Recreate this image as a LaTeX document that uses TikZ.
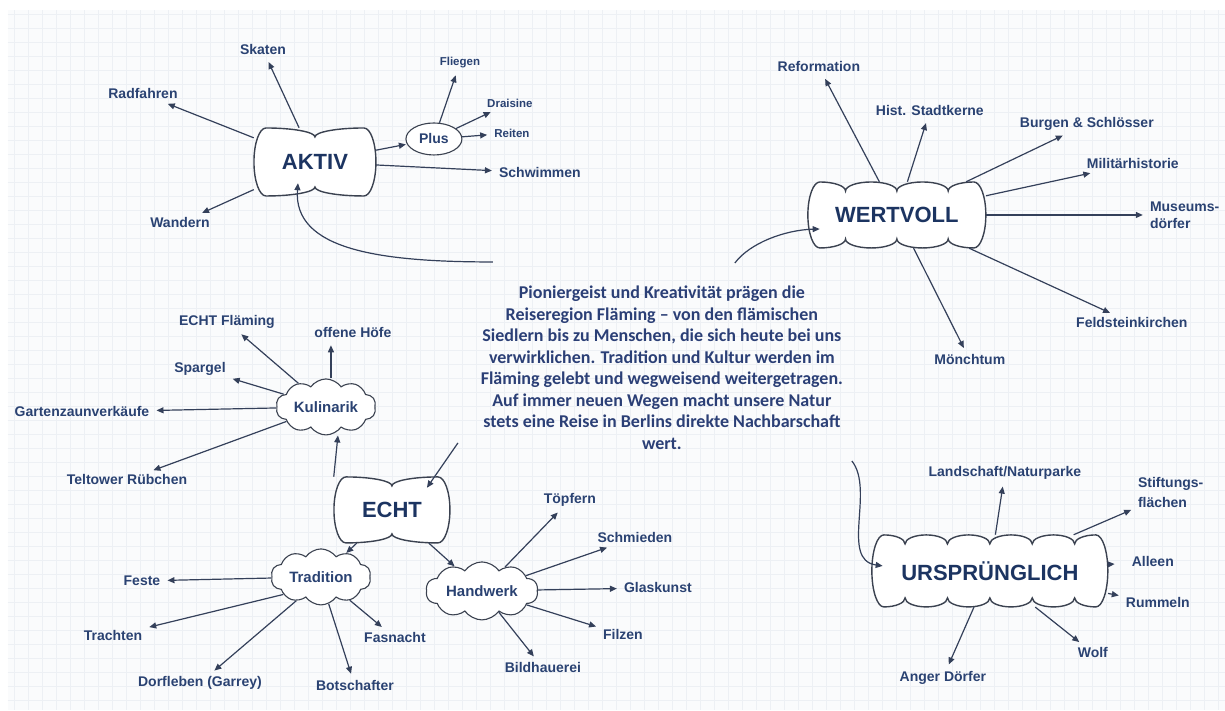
\documentclass[tikz,border=0pt]{standalone}
\usepackage{fontspec}
\setmainfont{Liberation Sans}
\newfontfamily\calib{Carlito}
\usetikzlibrary{arrows.meta,shapes.geometric,shapes.symbols}

\definecolor{labelblue}{HTML}{2A4272}
\definecolor{titleblue}{HTML}{1C3461}
\definecolor{infoblue}{HTML}{2B3F76}
\definecolor{linegray}{HTML}{34405A}
\definecolor{outline}{HTML}{3B4250}
\definecolor{gridline}{HTML}{EDF0F4}
\definecolor{paper}{HTML}{FAFBFC}

\tikzset{
  lbl/.style={font=\fontsize{14}{17}\selectfont\bfseries, text=labelblue, inner sep=3pt},
  small/.style={lbl, font=\fontsize{11.5}{14}\selectfont\bfseries},
  title/.style={font=\fontsize{22}{26}\selectfont\bfseries, text=titleblue, inner sep=0pt},
  puff/.style={cloud, cloud puffs=10, cloud puff arc=110, cloud ignores aspect, draw=outline, fill=white,
    line width=1.1pt, font=\fontsize{15}{18}\selectfont\bfseries, text=labelblue, inner sep=0pt},
  plusnode/.style={ellipse, draw=outline, fill=white, line width=1.1pt, inner sep=0pt,
    minimum width=56pt, minimum height=32pt, font=\fontsize{14}{17}\selectfont\bfseries, text=labelblue},
  link/.style={->, draw=linegray, line width=1.2pt, shorten >=4pt},
  curve/.style={->, draw=linegray, line width=1.2pt},
  boxline/.style={draw=outline, fill=white, line width=1.4pt},
}

% scalloped box: name, x, y, half width, half height, bumps, text
\newcommand\bigbox[7]{%
  \pgfmathsetmacro\bbr{(#4-12)/(#6-1)}%
  \pgfmathtruncatemacro\bbm{#6-1}%
  \draw[boxline] (#2-#4+12,#3+#5)
    \foreach \k in {1,...,\bbm}{
      arc[start angle=90,end angle=0,x radius=\bbr pt,y radius=9pt]
      arc[start angle=180,end angle=90,x radius=\bbr pt,y radius=9pt]}
    arc[start angle=90,end angle=-90,x radius=12pt,y radius=#5pt]
    \foreach \k in {1,...,\bbm}{
      arc[start angle=270,end angle=180,x radius=\bbr pt,y radius=9pt]
      arc[start angle=360,end angle=270,x radius=\bbr pt,y radius=9pt]}
    arc[start angle=270,end angle=90,x radius=12pt,y radius=#5pt] -- cycle;
  \node[title, minimum width=2*#4, minimum height=2*#5] (#1) at (#2,#3) {#7};
}

\begin{document}
\begin{tikzpicture}[x=1pt,y=1pt,>={Triangle[length=7pt,width=6pt]}]
  % paper and grid
  \fill[white] (0,0) rectangle (1225,-710);
  \fill[paper] (8,-10) rectangle (1225,-710);
  \draw[gridline, line width=0.4pt, step=14pt] (8,-710) grid (1225,-10);

  % main boxes
  \bigbox{aktiv}{315}{-162}{61}{34}{2}{AKTIV}
  \bigbox{wertvoll}{897}{-215}{89}{33}{4}{WERTVOLL}
  \bigbox{echt}{392}{-510}{58}{33}{2}{ECHT}
  \bigbox{urspr}{990}{-571}{118}{36}{6}{URSPRÜNGLICH}

  % centre text
  \node[font=\calib\fontsize{18}{21.5}\selectfont\bfseries, text=infoblue, align=center, inner sep=0pt]
    (info) at (662,-368) {Pioniergeist und Kreativität prägen die\\
      Reiseregion Fläming – von den flämischen\\
      Siedlern bis zu Menschen, die sich heute bei uns\\
      verwirklichen. Tradition und Kultur werden im\\
      Fläming gelebt und wegweisend weitergetragen.\\
      Auf immer neuen Wegen macht unsere Natur\\
      stets eine Reise in Berlins direkte Nachbarschaft\\
      wert.};
  \coordinate (fromA) at (493,-262);
  \coordinate (fromW) at (735,-263);
  \coordinate (fromU) at (852,-461);
  \coordinate (fromE) at (458,-443);

  % AKTIV
  \node[lbl] (skaten) at (263,-50) {Skaten};
  \node[lbl] (radfahren) at (143,-94) {Radfahren};
  \node[lbl] (wandern) at (180,-223) {Wandern};
  \node[lbl] (schwimmen) at (540,-173) {Schwimmen};
  \node[plusnode] (plus) at (434,-139) {Plus};
  \node[small] (fliegen) at (460,-63) {Fliegen};
  \node[small] (draisine) at (510,-103) {Draisine};
  \node[small] (reiten) at (512,-133) {Reiten};
  \draw[link] (aktiv) -- (skaten);
  \draw[link] (aktiv) -- (radfahren);
  \draw[link] (aktiv) -- (wandern);
  \draw[link] (aktiv) -- (schwimmen);
  \draw[link, shorten >=1pt] (aktiv) -- (plus);
  \draw[link] (plus) -- (fliegen);
  \draw[link] (plus) -- (draisine);
  \draw[link] (plus) -- (reiten);

  % WERTVOLL
  \node[lbl] (reformation) at (819,-67) {Reformation};
  \node[lbl] (stadtkerne) at (930,-111) {Hist. Stadtkerne};
  \node[lbl] (burgen) at (1087,-124) {Burgen \& Schlösser};
  \node[lbl] (militaer) at (1133,-164) {Militärhistorie};
  \node[lbl, align=left, anchor=west, font=\fontsize{14}{17}\selectfont\bfseries] (museum) at (1147,-215) {Museums-\\dörfer};
  \node[lbl] (feldstein) at (1132,-323) {Feldsteinkirchen};
  \node[lbl] (moench) at (970,-360) {Mönchtum};
  \draw[link] (wertvoll) -- (reformation);
  \draw[link] (wertvoll) -- (stadtkerne);
  \draw[link] (wertvoll) -- (burgen);
  \draw[link] (wertvoll) -- (militaer);
  \draw[link] (wertvoll) -- (museum);
  \draw[link] (wertvoll) -- (feldstein);
  \draw[link] (wertvoll) -- (moench);

  % ECHT: Kulinarik
  \node[puff, minimum width=100pt, minimum height=56pt] (kulinarik) at (326,-407) {Kulinarik};
  \node[lbl] (echtflaeming) at (227,-322) {ECHT Fläming};
  \node[lbl] (hoefe) at (353,-333) {offene Höfe};
  \node[lbl] (spargel) at (200,-369) {Spargel};
  \node[lbl] (garten) at (82,-412) {Gartenzaunverkäufe};
  \node[lbl] (teltower) at (127,-480) {Teltower Rübchen};
  \draw[link] (kulinarik) -- (echtflaeming);
  \draw[link] ([xshift=5pt]kulinarik.north) -- ([xshift=5pt]kulinarik.north |- hoefe.south);
  \draw[link] (kulinarik) -- (spargel);
  \draw[link] (kulinarik) -- (garten);
  \draw[link] (kulinarik) -- (teltower);

  % ECHT: Tradition
  \node[puff, minimum width=100pt, minimum height=56pt] (tradition) at (321,-577) {Tradition};
  \node[lbl] (feste) at (142,-581) {Feste};
  \node[lbl] (trachten) at (113,-636) {Trachten};
  \node[lbl] (dorfleben) at (200,-683) {Dorfleben (Garrey)};
  \node[lbl] (botschafter) at (355,-686) {Botschafter};
  \node[lbl] (fasnacht) at (395,-638) {Fasnacht};
  \draw[link] (tradition) -- (feste);
  \draw[link] (tradition.205) -- (trachten);
  \draw[link] (tradition.224) -- (dorfleben);
  \draw[link] (tradition.286) -- (botschafter);
  \draw[link] (tradition.321) -- (fasnacht);

  % ECHT: Handwerk
  \node[puff, minimum width=112pt, minimum height=58pt] (handwerk) at (482,-591) {Handwerk};
  \node[lbl] (toepfern) at (570,-500) {Töpfern};
  \node[lbl] (schmieden) at (635,-538) {Schmieden};
  \node[lbl] (glaskunst) at (658,-588) {Glaskunst};
  \node[lbl] (filzen) at (623,-635) {Filzen};
  \node[lbl] (bildhauerei) at (543,-668) {Bildhauerei};
  \draw[link] (handwerk) -- (toepfern);
  \draw[link] (handwerk) -- (schmieden);
  \draw[link] (handwerk) -- (glaskunst);
  \draw[link] (handwerk) -- (filzen);
  \draw[link] (handwerk) -- (bildhauerei);

  \draw[link, shorten >=0pt] (echt.north west) -- ([xshift=12pt]kulinarik.south);
  \draw[link, shorten >=0pt] (echt) -- (tradition);
  \draw[link, shorten >=0pt] (echt) -- (handwerk);

  % URSPRUENGLICH
  \node[lbl] (landschaft) at (1005,-473) {Landschaft/Naturparke};
  \node[lbl, align=left, anchor=west, font=\fontsize{14}{20}\selectfont\bfseries] (stiftung) at (1135,-493) {Stiftungs-\\flächen};
  \node[lbl] (alleen) at (1153,-562) {Alleen};
  \node[lbl] (rummeln) at (1158,-603) {Rummeln};
  \node[lbl] (wolf) at (1093,-653) {Wolf};
  \node[lbl] (anger) at (943,-678) {Anger Dörfer};
  \draw[link] (urspr) -- (landschaft);
  \draw[link] (urspr) -- (stiftung);
  \draw[link, shorten >=14pt] (urspr) -- (alleen);
  \draw[link] (urspr) -- (rummeln);
  \draw[link] (urspr) -- (wolf);
  \draw[link] (urspr) -- (anger);

  % from the centre text
  \draw[curve] (fromA) .. controls (380,-262) and (293,-250) .. ([shift={(-17,13)}]aktiv.south);
  \draw[curve] (fromW) .. controls (750,-243) and (785,-230) .. ([shift={(12,-14)}]wertvoll.west);
  \draw[curve] (fromU) .. controls (875,-490) and (840,-560) .. ([shift={(11,5)}]urspr.west);
  \draw[curve] (fromE) -- ([shift={(35,-11)}]echt.north);
\end{tikzpicture}
\end{document}
